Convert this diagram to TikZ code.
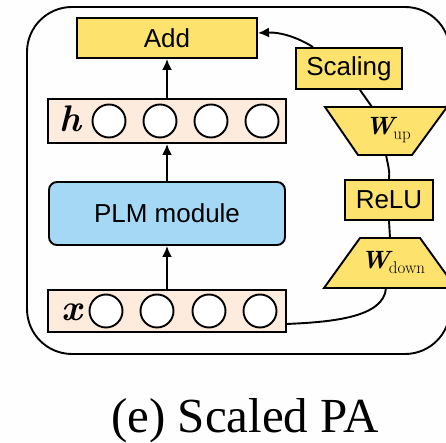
\documentclass[tikz,border=0pt]{standalone}
\usepackage{fontspec}
\setsansfont{Liberation Sans}
\newfontfamily\capfont{Liberation Serif}
\usetikzlibrary{arrows.meta}
\definecolor{boxyellow}{HTML}{FDE26E}
\definecolor{vecpeach}{HTML}{FDEBDD}
\definecolor{plmblue}{HTML}{A4D8F5}
\definecolor{paper}{HTML}{FEFEFE}
\newcommand{\vecsym}[1]{{\fontsize{37}{40}\selectfont\bfseries\itshape #1}}
\newcommand{\wmat}[1]{{\fontsize{25}{28}\selectfont\bfseries\itshape W}\kern-1pt\raisebox{-5pt}{\fontsize{17}{20}\selectfont\mdseries\upshape #1}}

\begin{document}
\begin{tikzpicture}[x=1pt,y=1pt,
  lw/.style={line width=1.9pt},
  labelfont/.style={font=\sffamily\fontsize{26}{30}\selectfont},
  ybox/.style={draw, lw, fill=boxyellow, labelfont, inner sep=0pt},
  vecbox/.style={draw, lw, fill=vecpeach, inner sep=0pt},
  unit/.style={draw, lw, fill=white, circle, minimum size=33pt, inner sep=0pt},
  flow/.style={lw, -{Latex[length=11pt,width=10pt]}},
  wire/.style={lw},
  trap/.style={draw, lw, fill=boxyellow, line join=miter}]
\useasboundingbox (0,0) rectangle (446,443);
% page background, and everything kept inside the page
\fill[paper] (0,0) rectangle (446,443);
\clip (0,0) rectangle (446,443);

% outer frame
\draw[lw, rounded corners=45pt] (27,89) rectangle (450,436);

% main column
\node[ybox, minimum width=180pt, minimum height=40pt] (add) at (167,405) {Add};
\node[vecbox, minimum width=238pt, minimum height=44pt] (hrow) at (167,322) {};
\node[draw, lw, fill=plmblue, rounded corners=8pt, minimum width=236pt,
      minimum height=63pt, labelfont] (plm) at (167,229.5) {PLM module};
\node[vecbox, minimum width=238pt, minimum height=42pt] (xrow) at (167,132) {};

\foreach \cx [count=\i] in {109,160,211,262}
  \node[unit] (h\i) at (\cx,322) {};
\foreach \cx [count=\i] in {106,157,209,260}
  \node[unit] (x\i) at (\cx,132) {};

\node[inner sep=0pt] (hlab) at (70.5,324) {\vecsym{h}};
\node[inner sep=0pt] (xlab) at (72,131) {\vecsym{x}};

% adapter branch
\node[ybox, minimum width=106pt, minimum height=41pt] (scaling) at (349,374.5) {Scaling};
\path[trap] (325,336) -- (447,336) -- (412,288) -- (358,288) -- cycle;
\node[inner sep=0pt] (wup) at (388,313) {\wmat{up}};
\node[ybox, minimum width=88pt, minimum height=40pt] (relu) at (389,243) {ReLU};
\path[trap] (360,205) -- (420,205) -- (456,155) -- (324,155) -- cycle;
\node[inner sep=0pt] (wdown) at (393,181) {\wmat{down}};

\coordinate (wuptop) at (372,336);
\coordinate (wupbot) at (386,288);
\coordinate (wdtop) at (390,205);
\coordinate (wdbot) at (386,155);

% connectors
\draw[flow] (hrow.north) -- (add.south);
\draw[flow] (plm.north) -- (hrow.south);
\draw[flow] (xrow.north) -- (plm.south);
\draw[flow] ([xshift=-36pt]scaling.north) .. controls (297,406) and (280,411) .. ([yshift=5pt]add.east);
\draw[wire] ([xshift=11pt]scaling.south) -- (wuptop);
\draw[wire] (wupbot) .. controls (388,278) and (390,271) .. (relu.north);
\draw[wire] (relu.south) -- (wdtop);
\draw[wire] (wdbot) .. controls (384,125) and (330,121) .. ([yshift=-13pt]xrow.east);

% caption
\node[anchor=base, inner sep=0pt, font=\capfont\fontsize{49}{54}\selectfont] (cap) at (245,10) {(e) Scaled PA};
\end{tikzpicture}
\end{document}
